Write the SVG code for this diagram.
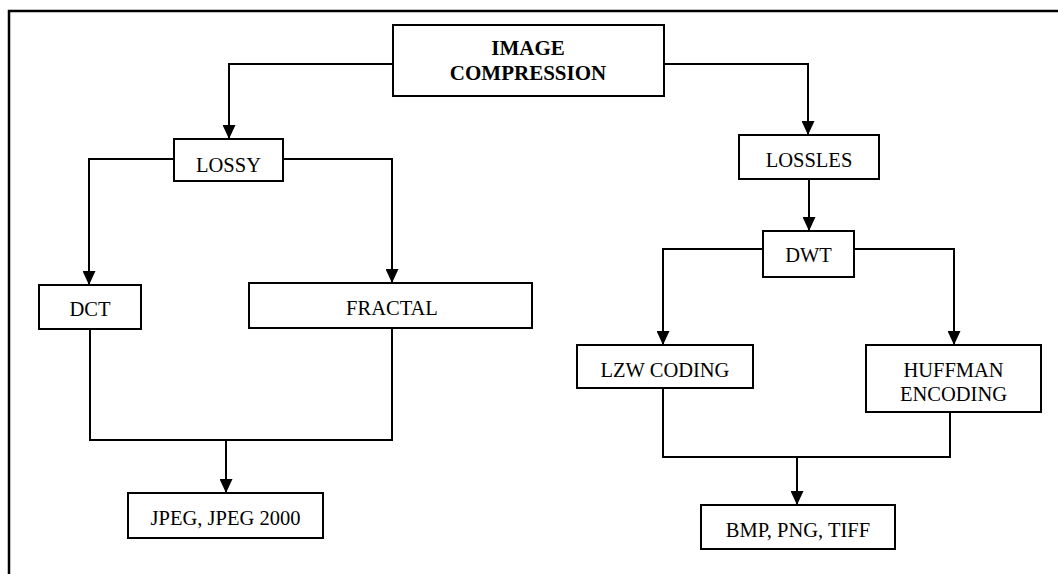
<svg xmlns="http://www.w3.org/2000/svg" width="1058" height="574" viewBox="0 0 1058 574">
  <style>
    .box { fill: #ffffff; stroke: #000000; stroke-width: 2; }
    .lbl { font-size: 20.5px; fill: #000000; text-anchor: middle; }
    .bold { font-weight: bold; font-size: 21px; }
    .wire { fill: none; stroke: #000000; stroke-width: 2; }
    .arrow { marker-end: url(#head); }
  </style>
  <defs>
    <marker id="head" viewBox="0 0 14 13" refX="14" refY="6.5" markerWidth="14" markerHeight="13" markerUnits="userSpaceOnUse" orient="auto">
      <path d="M0,0 L14,6.5 L0,13 Z" fill="#000000"/>
    </marker>
  </defs>

  <rect width="1058" height="574" fill="#ffffff"/>
  <!-- page frame -->
  <path d="M9,574 L9,11 L1058,11" fill="none" stroke="#000000" stroke-width="2.5"/>

  <g id="connectors">
    <!-- root to the two branches -->
    <path class="wire arrow" d="M393,64 L229,64 L229,139"/>
    <path class="wire arrow" d="M664,64 L808,64 L808,135"/>
    <!-- lossy branch -->
    <path class="wire arrow" d="M174,159 L89,159 L89,285"/>
    <path class="wire arrow" d="M283,159 L392,159 L392,283"/>
    <path class="wire" d="M90,329 L90,440 L392,440 L392,328"/>
    <path class="wire arrow" d="M226,440 L226,493"/>
    <!-- lossless branch -->
    <path class="wire arrow" d="M809,179 L809,231"/>
    <path class="wire arrow" d="M763,249 L663,249 L663,345"/>
    <path class="wire arrow" d="M854,249 L954,249 L954,345"/>
    <path class="wire" d="M663,388 L663,457 L950,457 L950,412"/>
    <path class="wire arrow" d="M797,457 L797,505"/>
  </g>

  <g font-family="'Liberation Serif', 'DejaVu Serif', serif">
  <g id="image-compression">
    <rect class="box" x="393" y="25" width="271" height="71"/>
    <text class="lbl bold" x="528" y="55">IMAGE</text>
    <text class="lbl bold" x="528" y="80">COMPRESSION</text>
  </g>
  <g id="lossy">
    <rect class="box" x="174" y="139" width="109" height="42"/>
    <text class="lbl" x="228.5" y="172">LOSSY</text>
  </g>
  <g id="lossles">
    <rect class="box" x="739" y="135" width="140" height="44"/>
    <text class="lbl" x="809" y="167">LOSSLES</text>
  </g>
  <g id="dct">
    <rect class="box" x="39" y="285" width="102" height="44"/>
    <text class="lbl" x="90" y="316">DCT</text>
  </g>
  <g id="fractal">
    <rect class="box" x="249" y="283" width="283" height="45"/>
    <text class="lbl" x="392" y="315">FRACTAL</text>
  </g>
  <g id="dwt">
    <rect class="box" x="763" y="231" width="91" height="46"/>
    <text class="lbl" x="808.5" y="262">DWT</text>
  </g>
  <g id="lzw-coding">
    <rect class="box" x="577" y="345" width="176" height="43"/>
    <text class="lbl" x="665" y="377">LZW CODING</text>
  </g>
  <g id="huffman-encoding">
    <rect class="box" x="866" y="345" width="175" height="67"/>
    <text class="lbl" x="953.5" y="377">HUFFMAN</text>
    <text class="lbl" x="953.5" y="401">ENCODING</text>
  </g>
  <g id="jpeg">
    <rect class="box" x="128" y="493" width="195" height="45"/>
    <text class="lbl" x="225.5" y="525">JPEG, JPEG 2000</text>
  </g>
  <g id="bmp-png-tiff">
    <rect class="box" x="701" y="505" width="194" height="44"/>
    <text class="lbl" x="798" y="537">BMP, PNG, TIFF</text>
  </g>
  </g>
</svg>
